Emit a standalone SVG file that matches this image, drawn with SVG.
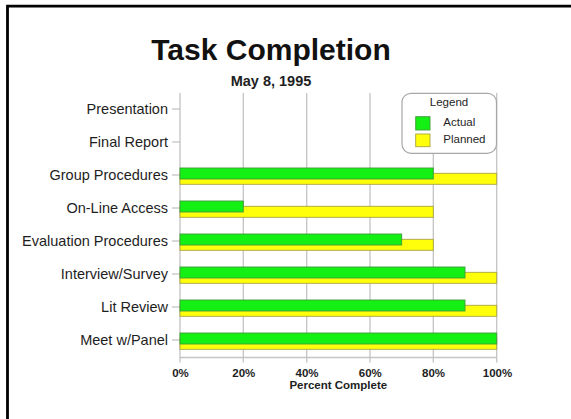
<svg xmlns="http://www.w3.org/2000/svg" width="571" height="419" viewBox="0 0 571 419">
<style>
.lbl{font-family:"Liberation Sans",Arial,sans-serif;font-size:14.5px;fill:#1e1e1e;text-anchor:end}
.ax{font-family:"Liberation Sans",Arial,sans-serif;font-size:11.5px;font-weight:bold;fill:#1e1e1e;text-anchor:middle}
.lg{font-family:"Liberation Sans",Arial,sans-serif;font-size:11.5px;fill:#1e1e1e}
.grid{stroke:#c4c4c4;stroke-width:1.3;fill:none}
.tick{stroke:#b4b4b4;stroke-width:1.2}
.act{fill:#14f014;stroke:#3f9a3a;stroke-width:0.9}
.pln{fill:#ffff0c;stroke:#a8a440;stroke-width:0.9}
</style>
<rect width="571" height="419" fill="#ffffff"/>
<path d="M7.5,419 V6.2 H571" fill="none" stroke="#000" stroke-width="2.8"/>
<text x="271" y="60" font-family="'Liberation Sans',Arial,sans-serif" font-size="30" font-weight="bold" text-anchor="middle" fill="#111">Task Completion</text>
<text x="271" y="85.7" font-family="'Liberation Sans',Arial,sans-serif" font-size="14.5" font-weight="bold" text-anchor="middle" fill="#1e1e1e">May 8, 1995</text>
<g id="gridlines">
<path class="grid" d="M180,93 V362.5 M243.3,93 V362.5 M306.7,93 V362.5 M370,93 V362.5 M433.3,93 V362.5 M496.7,93 V362.5 M180,357.5 H496.7"/>
<path class="tick" d="M172,109 H180 M172,142 H180 M172,175 H180 M172,208 H180 M172,241 H180 M172,274 H180 M172,307 H180 M172,340 H180"/>
</g>
<g id="axis-labels">
<text class="ax" x="180.5" y="376.5">0%</text>
<text class="ax" x="243.8" y="376.5">20%</text>
<text class="ax" x="307" y="376.5">40%</text>
<text class="ax" x="370.3" y="376.5">60%</text>
<text class="ax" x="433.6" y="376.5">80%</text>
<text class="ax" x="497.5" y="376.5">100%</text>
<text class="ax" x="338.3" y="389.3">Percent Complete</text>
</g>
<g id="presentation"><text class="lbl" x="168" y="114">Presentation</text></g>
<g id="final-report"><text class="lbl" x="168" y="147">Final Report</text></g>
<g id="group-procedures">
<text class="lbl" x="168" y="180">Group Procedures</text>
<rect class="pln" x="180" y="173.3" width="316.7" height="11"/>
<rect class="act" x="180" y="168" width="253.3" height="11"/>
</g>
<g id="on-line-access">
<text class="lbl" x="168" y="213">On-Line Access</text>
<rect class="pln" x="180" y="206.3" width="253.3" height="11"/>
<rect class="act" x="180" y="201" width="63.3" height="11"/>
</g>
<g id="evaluation-procedures">
<text class="lbl" x="168" y="246">Evaluation Procedures</text>
<rect class="pln" x="180" y="239.3" width="253.3" height="11"/>
<rect class="act" x="180" y="234" width="221.7" height="11"/>
</g>
<g id="interview-survey">
<text class="lbl" x="168" y="279">Interview/Survey</text>
<rect class="pln" x="180" y="272.3" width="316.7" height="11"/>
<rect class="act" x="180" y="267" width="285" height="11"/>
</g>
<g id="lit-review">
<text class="lbl" x="168" y="312">Lit Review</text>
<rect class="pln" x="180" y="305.3" width="316.7" height="11"/>
<rect class="act" x="180" y="300" width="285" height="11"/>
</g>
<g id="meet-panel">
<text class="lbl" x="168" y="345">Meet w/Panel</text>
<rect class="pln" x="180" y="338.3" width="316.7" height="11"/>
<rect class="act" x="180" y="333" width="316.7" height="11"/>
</g>
<g id="legend">
<rect x="402" y="93.3" width="94.5" height="60" rx="9" fill="#fff" stroke="#a8a8a8" stroke-width="1.2"/>
<text class="lg" x="449" y="106" text-anchor="middle">Legend</text>
<rect class="act" x="415.7" y="116.7" width="14.3" height="13.3"/>
<rect class="pln" x="415.7" y="134" width="14.3" height="12.7"/>
<text class="lg" x="443.3" y="126">Actual</text>
<text class="lg" x="443.3" y="143.3">Planned</text>
</g>
</svg>
